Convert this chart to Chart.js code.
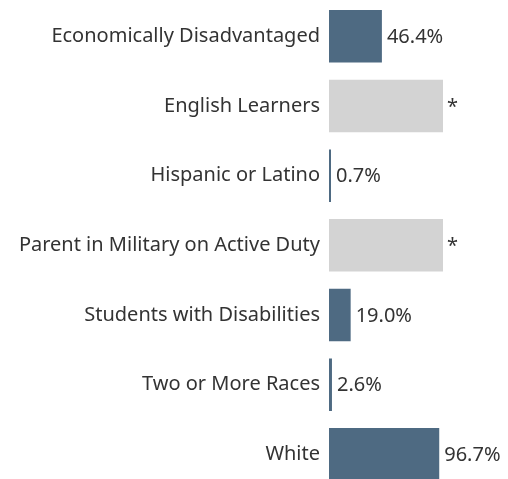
<!DOCTYPE html>
<html>
<head>
<meta charset="utf-8">
<script src="https://cdn.jsdelivr.net/npm/chart.js@4"></script>
<style>
html,body{margin:0;padding:0;overflow:hidden;background:#fff;}
#wrap{width:508px;height:490px;position:relative;}
</style>
</head>
<body>
<div id="wrap"><canvas id="c" width="508" height="490"></canvas></div>
<script>
const categories = ["Economically Disadvantaged","English Learners","Hispanic or Latino","Parent in Military on Active Duty","Students with Disabilities","Two or More Races","White"];
const values = [46.4, null, 0.7, null, 19.0, 2.6, 96.7];
const valueLabels = ["46.4%","*","0.7%","*","19.0%","2.6%","96.7%"];
const suppressedValue = 100;
const suppressed = values.map(v => v === null ? suppressedValue : null);

const FONT = '"Noto Sans", sans-serif';
const labelPlugin = {
  id: 'valLabels',
  afterDatasetsDraw(chart) {
    const ctx = chart.ctx;
    ctx.save();
    ctx.font = '20px ' + FONT;
    ctx.fillStyle = '#333333';
    ctx.textBaseline = 'middle';
    ctx.textAlign = 'left';
    categories.forEach((c, i) => {
      const dsIdx = values[i] === null ? 1 : 0;
      const el = chart.getDatasetMeta(dsIdx).data[i];
      if (!el) return;
      const gap = values[i] === null ? 4 : 5;
      ctx.fillText(valueLabels[i], el.x + gap, el.y + 1);
    });
    ctx.restore();
  }
};

new Chart(document.getElementById('c'), {
  type: 'bar',
  data: {
    labels: categories,
    datasets: [
      {data: values, backgroundColor: '#4e6a82', barPercentage: 0.754, categoryPercentage: 1, minBarLength: 2, grouped: false},
      {data: suppressed, backgroundColor: '#d3d3d3', barPercentage: 0.754, categoryPercentage: 1, grouped: false}
    ]
  },
  options: {
    indexAxis: 'y',
    responsive: false,
    animation: false,
    layout: {padding: {top: 1.5, bottom: 0.8, right: 65, left: 0}},
    plugins: {legend: {display: false}, tooltip: {enabled: false}},
    scales: {
      x: {display: false, min: 0, max: 100},
      y: {
        grid: {display: false, drawTicks: false, tickLength: 0},
        border: {display: false},
        ticks: {color: '#333333', font: {family: FONT, size: 20}, padding: 9},
        afterFit(scale) { scale.width = 329; scale.paddingTop = 0; scale.paddingBottom = 0; }
      }
    }
  },
  plugins: [labelPlugin]
});
</script>
</body>
</html>
